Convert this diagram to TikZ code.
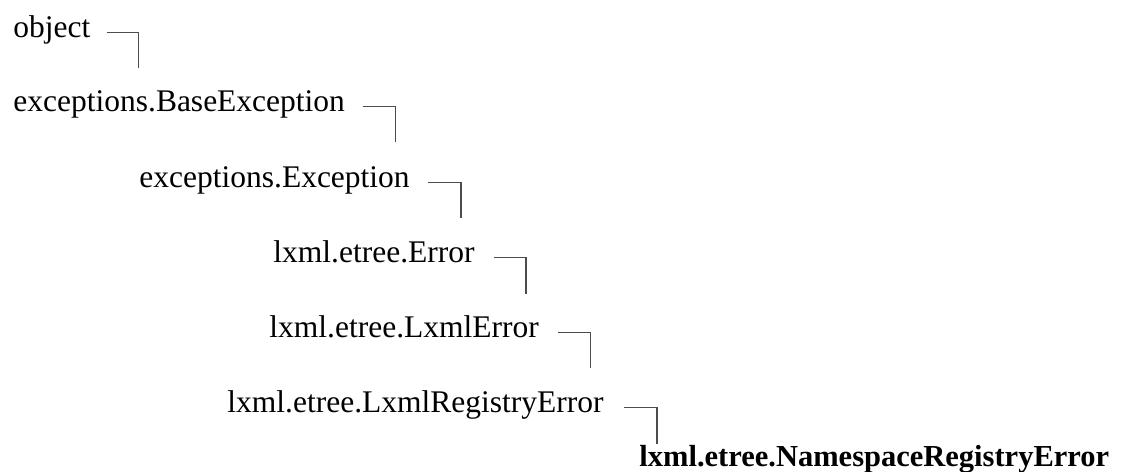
\documentclass[tikz,border=0pt]{standalone}
\usepackage{fontspec}
\setmainfont{Liberation Serif}
\usepackage{tikz}

\begin{document}
\begin{tikzpicture}[x=0.5pt, y=0.5pt]

		% Setup the style for the classes and links
		\tikzset{class style/.style={anchor=base west,
				inner sep=0pt,
				font=\fontsize{15.75pt}{18pt}\selectfont},
			base style/.style={class style, font=\fontsize{15.25pt}{18pt}\selectfont\bfseries},
			link style/.style={draw=black!70, line width=0.6pt}}

		\useasboundingbox (0,0) rectangle (1133,-471);

		% Draw the classes
		\node[class style] at (13, -37)   (object)    {object};
		\node[class style] at (13, -111)  (baseexc)   {exceptions.BaseException};
		\node[class style] at (139, -187) (exception) {exceptions.Exception};
		\node[class style] at (273, -262) (error)     {lxml.etree.Error};
		\node[class style] at (269, -337) (lxmlerror) {lxml.etree.LxmlError};
		\node[class style] at (227, -412) (registry)  {lxml.etree.LxmlRegistryError};
		\node[base style] at (639, -466)  (namespace) {lxml.etree.NamespaceRegistryError};

		% Connect each class to its subclass
		\draw[link style] (object.mid east)    ++(16,0) -- ++(32,0) -- ++(0,-36);
		\draw[link style] (baseexc.mid east)   ++(18,0) -- ++(32,0) -- ++(0,-36);
		\draw[link style] (exception.mid east) ++(18,0) -- ++(33,0) -- ++(0,-36);
		\draw[link style] (error.mid east)     ++(19,0) -- ++(32,0) -- ++(0,-37);
		\draw[link style] (lxmlerror.mid east) ++(19,0) -- ++(32,0) -- ++(0,-36);
		\draw[link style] (registry.mid east)  ++(20,0) -- ++(33,0) -- ++(0,-37);
%		\draw[link style] (registry) -- (namespace);
\end{tikzpicture}
\end{document}
